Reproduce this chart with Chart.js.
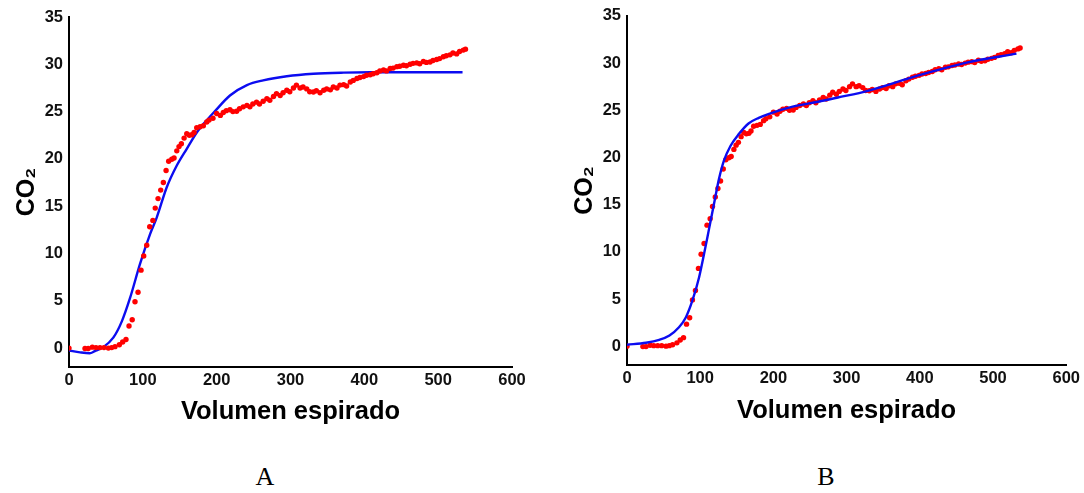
<!DOCTYPE html>
<html>
<head>
<meta charset="utf-8">
<script src="https://cdn.jsdelivr.net/npm/chart.js@4.4.1/dist/chart.umd.min.js"></script>
<style>
  body { margin: 0; background: #fff; width: 1084px; height: 493px; position: relative; overflow: hidden; }
  canvas { position: absolute; top: 0; }
  #chartA { left: 0; }
  #chartB { left: 542px; }
  .panel { position: absolute; top: 462px; font-family: "Liberation Serif", "Times New Roman", serif; font-size: 26px; color: #000; transform: translateX(-50%); }
</style>
</head>
<body>
<canvas id="chartA" width="542" height="440"></canvas>
<canvas id="chartB" width="542" height="440"></canvas>
<div class="panel" style="left:265px">A</div>
<div class="panel" style="left:826px">B</div>
<script>
// measured CO2 points [volume, CO2] (same in both panels)
const measured = [
  [0, 0], [21.7, -0.05], [26, -0.05], [31.6, 0.1], [36.6, 0.05], [42, 0.05], [47.4, 0.05],
  [53.3, 0.0], [57.8, 0.05], [62.3, 0.15], [68.2, 0.35], [72.7, 0.65], [77.2, 0.9],
  [81.3, 2.33], [85.6, 3.0], [89.4, 4.9], [93.5, 5.9], [97.6, 8.24], [101.2, 9.74],
  [105.3, 10.87], [109.3, 12.82], [113.6, 13.5], [116.8, 14.8], [120.6, 15.8], [124.2, 16.7],
  [127.8, 17.5], [131.5, 18.77], [135, 19.75], [139.2, 19.97], [142.3, 20.1], [146, 20.85],
  [149, 21.3], [152.2, 21.6], [155.9, 22.2], [159.5, 22.65], [163, 22.5], [166.5, 22.55],
  [169.4, 22.8], [173, 23.3], [177.6, 23.4], [182, 23.5], [186.6, 23.9], [189.7, 24.1],
  [195, 24.3], [200, 24.8], [205, 24.6], [209, 24.9], [213, 25.1], [218, 25.2], [222, 25.0],
  [227, 25.03], [231, 25.3], [236, 25.5], [241, 25.66], [245, 25.5], [249, 25.8], [254, 26.0],
  [258, 25.8], [263, 26.1], [268, 26.37], [272, 26.2], [277, 26.6], [281, 26.9], [286, 26.7],
  [290, 27.0], [295, 27.25], [299, 27.1], [304, 27.5], [308, 27.8], [313, 27.5], [317, 27.6],
  [322, 27.4], [326, 27.1], [331, 27.07], [335, 27.2], [340, 27.0], [345, 27.25], [349, 27.4],
  [354, 27.3], [358, 27.6], [363, 27.5], [367, 27.8], [372, 27.85], [376, 27.7], [381, 28.13],
  [385, 28.3], [390, 28.5], [394, 28.6], [399, 28.7], [403, 28.85], [408, 28.9], [412, 29.0],
  [417, 29.1], [421, 29.3], [426, 29.4], [430, 29.3], [435, 29.55], [439, 29.6], [444, 29.75],
  [448, 29.8], [453, 29.9], [457, 29.85], [462, 30.0], [466, 30.1], [471, 30.15], [475, 30.05],
  [480, 30.3], [484, 30.2], [489, 30.25], [493, 30.4], [498, 30.5], [502, 30.6], [507, 30.8],
  [511, 30.9], [516, 31.0], [520, 31.2], [525, 31.1], [529, 31.35], [534, 31.5], [537, 31.6]
];

// fitted model curves
const fitA = [
  [0, -0.25], [15, -0.45], [28, -0.55], [35, -0.32], [46.5, 0.1], [60, 1.1], [71.4, 2.8],
  [82.7, 5.3], [96.2, 8.9], [109.8, 12.05], [118.8, 13.8], [132.4, 17.0], [146, 19.3],
  [159.5, 21.07], [174, 22.9], [189, 24.3], [196, 24.9], [218, 26.7], [241, 27.8], [263, 28.3],
  [295, 28.74], [331, 29.0], [372, 29.12], [408, 29.16], [533, 29.16]
];
const fitB = [
  [0, 0.15], [26, 0.36], [44, 0.67], [58, 1.13], [71, 2.0], [80.5, 3.07], [89.4, 4.84],
  [98.5, 7.3], [105.3, 9.78], [112, 12.4], [118.8, 15.07], [125.6, 17.7], [132.4, 19.65],
  [141.5, 21.24], [152.7, 22.47], [166, 23.6], [180, 24.2], [193, 24.6], [225, 25.36],
  [261, 25.9], [288, 26.35], [329, 27.06], [396, 28.65], [464, 30.05], [532, 31.0]
];

const xTicks = [0, 100, 200, 300, 400, 500, 600];
const yTicks = [0, 5, 10, 15, 20, 25, 30, 35];

const toXY = arr => arr.map(p => ({ x: p[0], y: p[1] }));
const sans = "'Liberation Sans', Arial, sans-serif";

function makeChart(id, fit, cfg) {
  const redSet = {
    type: "scatter",
    data: toXY(measured),
    backgroundColor: "#ff0000",
    borderWidth: 0,
    pointRadius: 2.7,
    pointHoverRadius: 2.7,
  };
  const blueSet = {
    type: "line",
    data: toXY(fit),
    borderColor: "#0c0cf0",
    borderWidth: 2.4,
    pointRadius: 0,
    fill: false,
    cubicInterpolationMode: "monotone",
  };
  return new Chart(document.getElementById(id), {
    type: "scatter",
    data: { datasets: cfg.redOnTop ? [redSet, blueSet] : [blueSet, redSet] },
    options: {
      responsive: false,
      animation: false,
      events: [],
      layout: { padding: { left: 0, top: cfg.top, right: cfg.right, bottom: cfg.bottom } },
      plugins: { legend: { display: false }, tooltip: { enabled: false } },
      scales: {
        x: {
          type: "linear",
          min: 0,
          max: 600,
          afterBuildTicks: s => { s.ticks = xTicks.map(v => ({ value: v })); },
          afterFit: s => { s.height = cfg.xh; },
          grid: { display: false, drawTicks: false },
          border: { display: true, color: "#000", width: 2 },
          ticks: { padding: 4, color: "#111", font: { family: sans, size: 16.5, weight: "bold" } },
          title: {
            display: true,
            text: "Volumen espirado",
            color: "#000",
            font: { family: sans, size: 25.5, weight: "bold", lineHeight: 1.2 },
            padding: { top: 0, bottom: 0 },
          },
        },
        y: {
          type: "linear",
          min: -2,
          max: 35,
          afterBuildTicks: s => { s.ticks = yTicks.map(v => ({ value: v })); },
          afterFit: s => { s.width = cfg.yw; },
          grid: { display: false, drawTicks: false },
          border: { display: true, color: "#000", width: 2 },
          ticks: { padding: 6, color: "#111", font: { family: sans, size: 16.5, weight: "bold" } },
          title: {
            display: true,
            text: "CO₂",
            color: "#000",
            font: { family: sans, size: 25, weight: "bold", lineHeight: 1.2 },
            padding: { top: cfg.titlePad, bottom: 0 },
          },
        },
      },
    },
  });
}

makeChart("chartA", fitA, { top: 17, right: 30, bottom: 13, xh: 60, yw: 69, titlePad: 12, redOnTop: true });
makeChart("chartB", fitB, { top: 15, right: 14, bottom: 14, xh: 61, yw: 85, titlePad: 28, redOnTop: false });
</script>
</body>
</html>
